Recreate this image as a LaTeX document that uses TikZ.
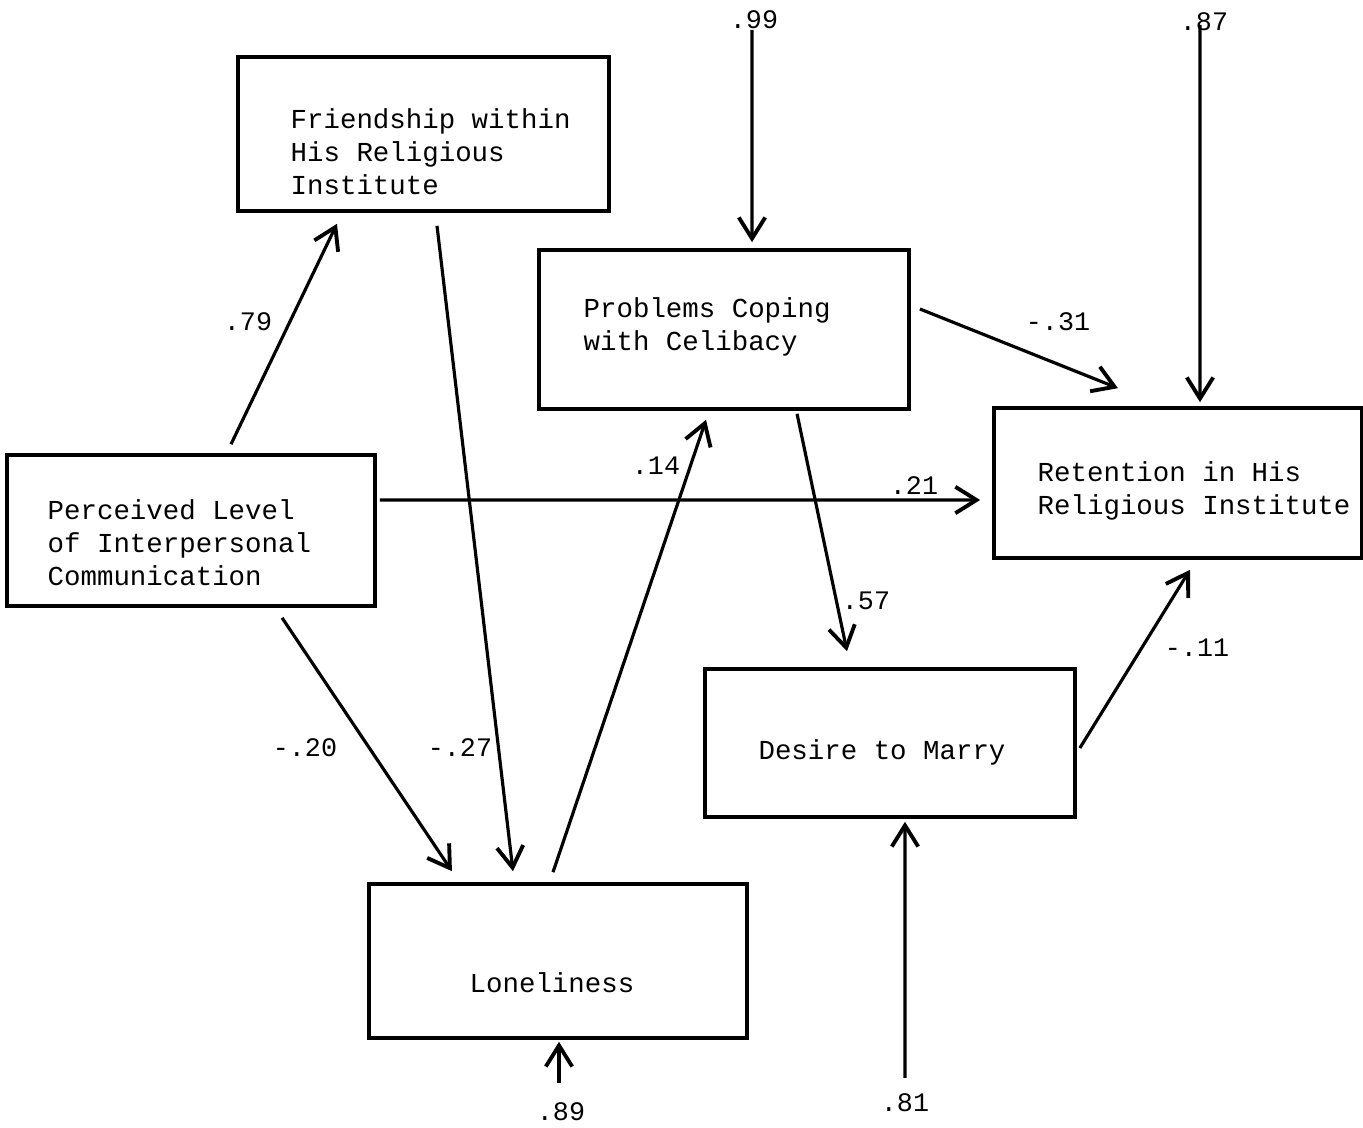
\documentclass[tikz,border=0pt]{standalone}
\usepackage{fontspec}
\setmonofont{Liberation Mono}
\usetikzlibrary{arrows.meta}
\tikzset{
  box/.style={draw, line width=1pt, rectangle, inner sep=0pt},
  txt/.style={font=\ttfamily\fontsize{7.8}{9.4}\selectfont, inner sep=0pt, align=left},
  lab/.style={font=\ttfamily\fontsize{7.6}{9}\selectfont, inner sep=0pt},
  arr/.style={line width=0.9pt, -{Straight Barb[length=6pt,width=7.5pt,line width=1.1pt]}}
}
\begin{document}
\begin{tikzpicture}[x=0.01cm,y=-0.01cm]
\useasboundingbox (0,0) rectangle (1363,1128);
% boxes
\node[box, minimum width=3.71cm, minimum height=1.54cm] (fr) at (423.5,134) {};
\node[box, minimum width=3.70cm, minimum height=1.59cm] (pr) at (724,329.5) {};
\node[box, minimum width=3.68cm, minimum height=1.50cm] (ret) at (1178,483) {};
\node[box, minimum width=3.68cm, minimum height=1.51cm] (perc) at (191,530.5) {};
\node[box, minimum width=3.70cm, minimum height=1.48cm] (des) at (890,743) {};
\node[box, minimum width=3.78cm, minimum height=1.54cm] (lon) at (558,961) {};
% texts
\node[txt, anchor=west] (tfr) at (290,152) {Friendship within\\His Religious\\Institute};
\node[txt, anchor=west] (tpr) at (583,327) {Problems Coping\\with Celibacy};
\node[txt, anchor=west] (tret) at (1037,490.5) {Retention in His\\Religious Institute};
\node[txt, anchor=west] (tperc) at (47,543) {Perceived Level\\of Interpersonal\\Communication};
\node[txt] (tdes) at (882,752) {Desire to Marry};
\node[txt] (tlon) at (552,983) {Loneliness};
% error labels
\node[lab] (e99) at (754,20) {.99};
\node[lab] (e87) at (1204,22) {.87};
\node[lab] (e81) at (905,1103) {.81};
\node[lab] (e89) at (561,1112) {.89};
\coordinate (c99) at (752,30);
\coordinate (c87) at (1200,25);
\coordinate (c81) at (905,1078);
\coordinate (c89) at (559,1083);
% path arrows
\draw[arr] ([xshift=0.40cm,yshift=0.09cm]perc.north) -- ([xshift=-0.865cm,yshift=-0.11cm]fr.south);
\draw[arr] ([xshift=0.135cm,yshift=-0.13cm]fr.south) -- ([xshift=-0.45cm,yshift=0.11cm]lon.north);
\draw[arr] ([xshift=0.91cm,yshift=-0.10cm]perc.south) -- ([xshift=-1.06cm,yshift=0.11cm]lon.north);
\draw[arr] ([xshift=-0.05cm,yshift=0.10cm]lon.north) -- ([xshift=-0.18cm,yshift=-0.09cm]pr.south);
\draw[arr] ([xshift=0.03cm,yshift=0.305cm]perc.east) -- ([xshift=-0.12cm,yshift=-0.17cm]ret.west);
\draw[arr] ([xshift=0.09cm,yshift=0.205cm]pr.east) -- ([xshift=-0.60cm,yshift=0.18cm]ret.north);
\draw[arr] ([xshift=0.73cm,yshift=-0.03cm]pr.south) -- ([xshift=-0.43cm,yshift=0.16cm]des.north);
\draw[arr] ([xshift=0.03cm,yshift=-0.05cm]des.east) -- ([xshift=0.12cm,yshift=-0.10cm]ret.south);
\draw[arr] (c99) -- ([xshift=0.28cm,yshift=0.06cm]pr.north);
\draw[arr] (c87) -- ([xshift=0.22cm,yshift=0.04cm]ret.north);
\draw[arr] (c81) -- ([xshift=0.15cm,yshift=-0.03cm]des.south);
\draw[arr] (c89) -- ([xshift=0.01cm,yshift=-0.02cm]lon.south);
% path coefficients
\node[lab] (l79) at (248,322) {.79};
\node[lab] (l27) at (460,748) {-.27};
\node[lab] (l20) at (305,748) {-.20};
\node[lab] (l14) at (656,466) {.14};
\node[lab] (l21) at (914,486) {.21};
\node[lab] (l31) at (1058,322) {-.31};
\node[lab] (l57) at (866,601) {.57};
\node[lab] (l11) at (1197,648) {-.11};
\end{tikzpicture}
\end{document}
